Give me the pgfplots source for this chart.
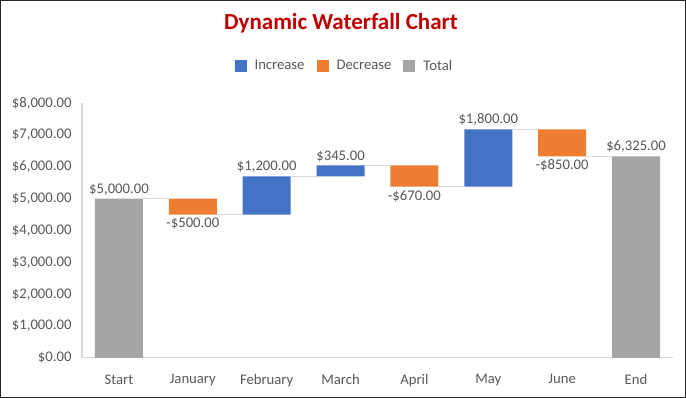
\documentclass[border=0pt]{standalone}
\usepackage{pgfplots}
\pgfplotsset{compat=1.18}
\usepackage{pgfplotstable}
\usepackage{fontspec}
\setmainfont{Carlito}
\definecolor{inc}{HTML}{4472C4}
\definecolor{dec}{HTML}{ED7D31}
\definecolor{tot}{HTML}{A5A5A5}
\definecolor{ttl}{HTML}{C00000}
\definecolor{lbl}{HTML}{595959}
\definecolor{ln}{HTML}{D9D9D9}

\pgfplotstableread{
x base inc dec tot
0 0 0 0 5000
1 4500 0 500 0
2 4500 1200 0 0
3 5700 345 0 0
4 5375 0 670 0
5 5375 1800 0 0
6 6325 0 850 0
7 0 0 0 6325
}\wf

\pgfplotstableread{
x y
0.325 5000
0.675 5000
0.7 nan
1.325 4500
1.675 4500
1.7 nan
2.325 5700
2.675 5700
2.7 nan
3.325 6045
3.675 6045
3.7 nan
4.325 5375
4.675 5375
4.7 nan
5.325 7175
5.675 7175
5.7 nan
6.325 6325
6.675 6325
}\conn

\begin{document}
\begin{tikzpicture}[x=1pt,y=1pt]
\useasboundingbox (0pt,0pt) rectangle (686pt,398pt);
\fill[white] (0pt,0pt) rectangle (686pt,398pt);
\node[font=\fontsize{23}{27}\selectfont\bfseries, text=ttl] at (341pt,375pt) {Dynamic Waterfall Chart};
\begin{axis}[
  at={(82pt,40pt)}, anchor=south west, scale only axis, width=591pt, height=255pt,
  xmin=-0.5, xmax=7.5, ymin=0, ymax=8000,
  ybar stacked, bar width=48pt,
  axis x line*=bottom, axis y line*=left,
  axis line style={draw=ln, line width=1pt, -},
  major tick length=0pt,
  xtick={0,...,7},
  xticklabels={Start,January,February,March,April,May,June,End},
  ytick={0,1000,...,8000},
  /pgf/number format/assume math mode=true,
  yticklabel={\$\pgfmathprintnumber[fixed,fixed zerofill,precision=2,1000 sep={,}]{\tick}},
  ticklabel style={font=\fontsize{14.7}{17}\selectfont, text=lbl},
  yticklabel style={xshift=-7pt},
  xticklabel style={yshift=-13pt},
  legend columns=3,
  legend style={at={(0.444,1)}, anchor=center, yshift=37pt, draw=none, fill=none,
    font=\fontsize{14.7}{17}\selectfont, text=lbl,
    /tikz/every odd column/.append style={column sep=6pt},
    /tikz/every even column/.append style={column sep=10pt}},
  legend image code/.code={\fill[#1] (0pt,-6pt) rectangle (12pt,6pt);},
]
\addplot[draw=none, fill=none, forget plot] table[x=x, y=base] {\wf};
\addplot[draw=none, fill=inc] table[x=x, y=inc] {\wf};
\addplot[draw=none, fill=dec] table[x=x, y=dec] {\wf};
\addplot[draw=none, fill=tot] table[x=x, y=tot] {\wf};
\legend{Increase,Decrease,Total}
\end{axis}
\begin{axis}[
  at={(82pt,40pt)}, anchor=south west, scale only axis, width=591pt, height=255pt,
  xmin=-0.5, xmax=7.5, ymin=0, ymax=8000,
  hide axis, unbounded coords=jump,
  every node near coord/.append style={font=\fontsize{14.7}{17}\selectfont, text=lbl},
]
\addplot[draw=ln, line width=1.5pt, mark=none] table[x=x, y=y] {\conn};
\addplot[draw=none, mark=none, nodes near coords, point meta=explicit symbolic,
  nodes near coords align={above}] coordinates {
  (0,5000) [\$5,000.00]
  (2,5700) [\$1,200.00]
  (3,6045) [\$345.00]
  (5,7175) [\$1,800.00]
  (7,6325) [\$6,325.00]
};
\addplot[draw=none, mark=none, nodes near coords, point meta=explicit symbolic,
  nodes near coords align={below}] coordinates {
  (1,4500) [-\$500.00]
  (4,5375) [-\$670.00]
  (6,6325) [-\$850.00]
};
\end{axis}
\draw[line width=1pt, color=black!85] (0.5pt,0.5pt) rectangle (685.5pt,397.5pt);
\end{tikzpicture}
\end{document}
